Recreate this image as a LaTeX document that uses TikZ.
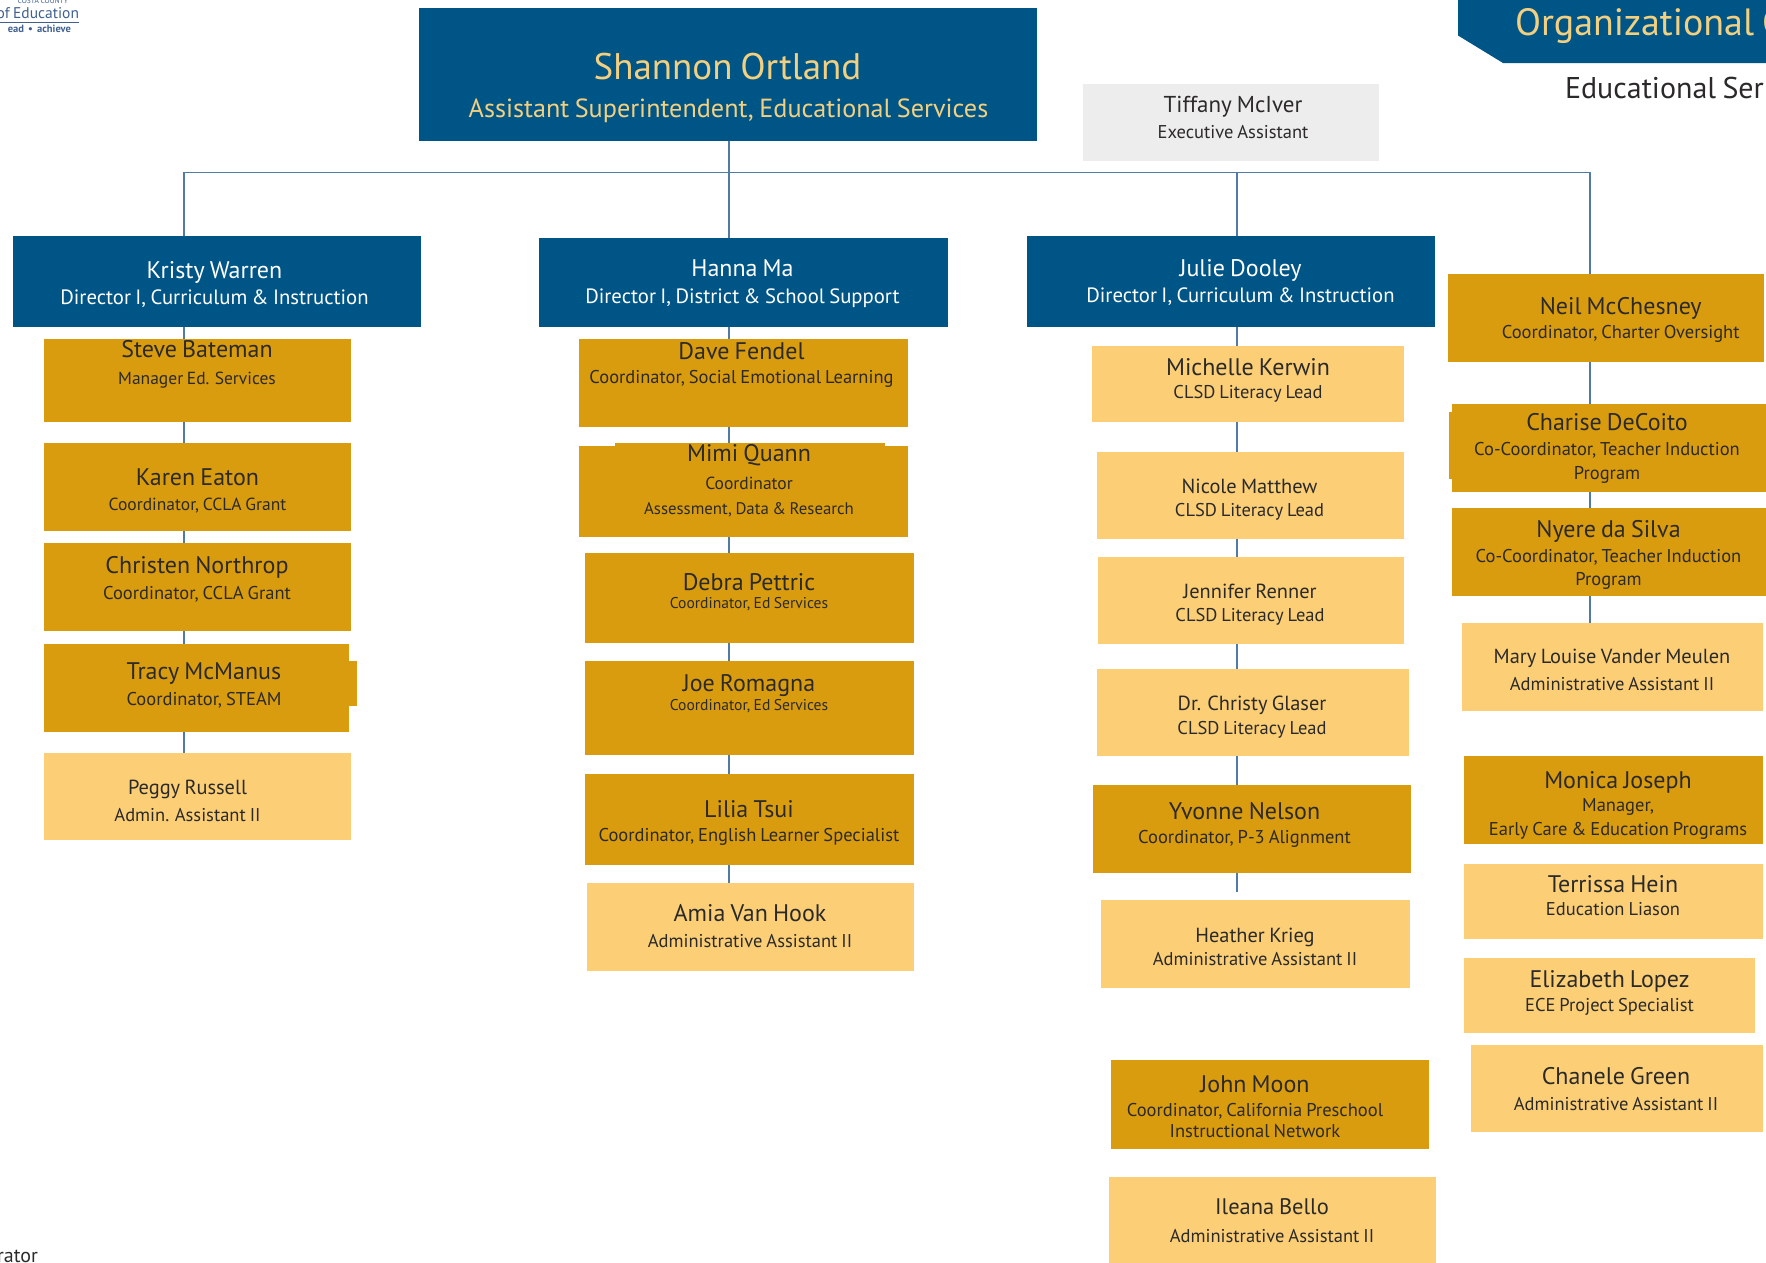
\documentclass[tikz,border=0pt]{standalone}
\usepackage{fontspec}
\setmainfont[WordSpace=0.8]{PT Sans}
\definecolor{navy}{HTML}{005587}
\definecolor{gold}{HTML}{DA9C0F}
\definecolor{sand}{HTML}{FCCF77}
\definecolor{mist}{HTML}{EDEDED}
\definecolor{wire}{HTML}{4F7BA5}
\definecolor{ink}{HTML}{2B2A29}
\definecolor{tan}{HTML}{F3D080}
\definecolor{logoblue}{HTML}{3F5F8F}
\tikzset{
  x=1pt,y=-1pt,
  box/.style={inner sep=0pt,outer sep=0pt,draw=none},
  navybox/.style={box,fill=navy},
  goldbox/.style={box,fill=gold},
  sandbox/.style={box,fill=sand},
  mistbox/.style={box,fill=mist},
  conn/.style={draw=wire,line width=1.1pt},
  txt/.style={inner sep=0pt,outer sep=0pt,anchor=center,text=ink},
  nm/.style={txt,font=\fontsize{24}{26}\selectfont},
  nmsmall/.style={txt,font=\fontsize{20.4}{23}\selectfont},
  sb/.style={txt,font=\fontsize{18.5}{21}\selectfont},
  sbsmall/.style={txt,font=\fontsize{17.5}{20}\selectfont},
  sbtiny/.style={txt,font=\fontsize{15.6}{18}\selectfont},
  wn/.style={txt,text=white,font=\fontsize{24}{26}\selectfont},
  ws/.style={txt,text=white,font=\fontsize{20.7}{23}\selectfont},
}
\newcommand{\card}[6]{%
  \pgfmathsetmacro{\cw}{#5-#3}\pgfmathsetmacro{\ch}{#6-#4}%
  \pgfmathsetmacro{\ccx}{(#3+#5)/2}\pgfmathsetmacro{\ccy}{(#4+#6)/2}%
  \node[#2,minimum width=\cw pt,minimum height=\ch pt] (#1) at (\ccx,\ccy) {};}
\newcommand{\tn}[5]{\node[#2] (#1) at (#3,#4) {#5};}
\begin{document}
\begin{tikzpicture}
\useasboundingbox (0,0) rectangle (1766,1262);
\clip (0,0) rectangle (1766,1262);
% coordinates of the trunks
\coordinate (t1) at (184,172.5);
\coordinate (t2) at (729,172.5);
\coordinate (t3) at (1237,172.5);
\coordinate (t4) at (1590,172.5);
% header
\fill[navy] (1458,-1) -- (1458,35.5) -- (1503,63) -- (1767,63) -- (1767,-1) -- cycle;
\node[txt,anchor=west,text=tan,font=\fontsize{38}{41}\selectfont] (title) at (1515,26) {Organizational C};
\node[txt,anchor=west,font=\fontsize{30}{33}\selectfont] (subtitle) at (1565,88) {Educational Ser};
% logo fragment
\node[txt,anchor=east,text=logoblue,font=\fontsize{7.5}{8}\selectfont] (logo1) at (68,1) {COSTA COUNTY};
\node[txt,anchor=east,text=logoblue,font=\fontsize{15.5}{18}\selectfont] (logo2) at (79,13) {of Education};
\coordinate (logoA) at (0,22.5);
\coordinate (logoB) at (79,22.5);
\draw[logoblue,line width=.8pt] (logoA) -- (logoB);
\node[txt,anchor=east,text=logoblue,font=\fontsize{10.5}{11}\bfseries\selectfont] (logo3) at (71,29) {ead \ \textbullet\ \ achieve};
\node[txt,anchor=east,font=\fontsize{20}{22}\selectfont] (foot) at (38,1256) {rator};
% boxes
\card{top}{navybox}{419}{8}{1037}{141}
\card{tiffany}{mistbox}{1083}{84}{1379}{161}
\card{kristy}{navybox}{13}{236}{421}{327}
\card{steve}{goldbox}{44}{339}{351}{422}
\card{karen}{goldbox}{44}{443}{351}{531}
\card{christen}{goldbox}{44}{543}{351}{631}
\card{tracy}{goldbox}{44}{644}{349}{732}
\card{tracytab}{goldbox}{349}{661}{357}{706}
\card{peggy}{sandbox}{44}{753}{351}{840}
\card{hanna}{navybox}{539}{238}{948}{327}
\card{dave}{goldbox}{579}{339}{908}{427}
\card{mimi}{goldbox}{579}{446}{908}{537}
\card{mimitab}{goldbox}{615}{443}{885}{447}
\card{debra}{goldbox}{585}{553}{914}{643}
\card{joe}{goldbox}{585}{661}{914}{755}
\card{lilia}{goldbox}{585}{774}{914}{865}
\card{amia}{sandbox}{587}{883}{914}{971}
\card{julie}{navybox}{1027}{236}{1435}{327}
\card{michelle}{sandbox}{1092}{346}{1404}{422}
\card{nicole}{sandbox}{1097}{452}{1404}{539}
\card{jennifer}{sandbox}{1098}{557}{1404}{644}
\card{christy}{sandbox}{1097}{669}{1409}{756}
\card{yvonne}{goldbox}{1093}{785}{1411}{873}
\card{heather}{sandbox}{1101}{900}{1410}{988}
\card{john}{goldbox}{1111}{1060}{1429}{1149}
\card{ileana}{sandbox}{1109}{1177}{1436}{1263}
\card{neil}{goldbox}{1448}{274}{1764}{362}
\card{charise}{goldbox}{1452}{404}{1767}{492}
\card{charisetab}{goldbox}{1449}{412}{1453}{479}
\card{nyere}{goldbox}{1452}{508}{1767}{596}
\card{mary}{sandbox}{1462}{623}{1763}{711}
\card{monica}{goldbox}{1464}{756}{1763}{844}
\card{terrissa}{sandbox}{1464}{864}{1763}{939}
\card{elizabeth}{sandbox}{1464}{958}{1755}{1033}
\card{chanele}{sandbox}{1471}{1045}{1763}{1132}
% connectors
\coordinate (topdrop) at (top.south -| t2);
\draw[conn,line cap=rect] (t1) -- (t4);
\draw[conn] (topdrop) -- (t2);
\draw[conn] (t1) -- (kristy.north -| t1);
\draw[conn] (t2) -- (hanna.north -| t2);
\draw[conn] (t3) -- (julie.north -| t3);
\draw[conn] (t4) -- (neil.north -| t4);
\foreach \a/\b in {kristy/steve,steve/karen,karen/christen,christen/tracy,tracy/peggy}
  \draw[conn] (\a.south -| t1) -- (\b.north -| t1);
\foreach \a/\b in {hanna/dave,dave/mimitab,mimi/debra,debra/joe,joe/lilia,lilia/amia}
  \draw[conn] (\a.south -| t2) -- (\b.north -| t2);
\foreach \a/\b in {julie/michelle,michelle/nicole,nicole/jennifer,jennifer/christy,christy/yvonne}
  \draw[conn] (\a.south -| t3) -- (\b.north -| t3);
\coordinate (yvtail) at (1237,892);
\draw[conn] (yvonne.south -| t3) -- (yvtail);
\foreach \a/\b in {neil/charise,charise/nyere,nyere/mary}
  \draw[conn] (\a.south -| t4) -- (\b.north -| t4);
% texts
\tn{topn}{txt,text=tan,font=\fontsize{37}{40}\selectfont}{727.5}{67}{Shannon Ortland}
\tn{tops}{txt,text=tan,font=\fontsize{26.2}{29}\selectfont}{728.5}{111}{Assistant Superintendent, Educational Services}
\tn{tifn}{txt,font=\fontsize{23}{26}\selectfont}{1233}{107}{Tiffany McIver}
\tn{tifs}{sb}{1233}{132}{Executive Assistant}
\tn{krn}{wn}{214.5}{272}{Kristy Warren}
\tn{krs}{ws}{214.5}{299}{Director I, Curriculum \& Instruction}
\tn{stn}{nm}{197}{349}{Steve Bateman}
\tn{sts}{sbsmall}{197}{380}{Manager Ed. Services}
\tn{kan}{nm}{197.5}{477}{Karen Eaton}
\tn{kas}{sbsmall}{197.5}{506}{Coordinator, CCLA Grant}
\tn{chn}{nm}{197}{567}{Christen Northrop}
\tn{chs}{sb}{197}{594}{Coordinator, CCLA Grant}
\tn{trn}{nm}{204}{674}{Tracy McManus}
\tn{trs}{sb}{204}{700}{Coordinator, STEAM}
\tn{pen}{nmsmall}{187.5}{789}{Peggy Russell}
\tn{pes}{sb}{187.5}{815}{Admin. Assistant II}
\tn{han}{wn}{742.5}{268.5}{Hanna Ma}
\tn{has}{ws}{742.5}{298}{Director I, District \& School Support}
\tn{dan}{nm}{741.5}{351}{Dave Fendel}
\tn{das}{sb}{741.5}{379}{Coordinator, Social Emotional Learning}
\tn{min}{nm}{749}{455}{Mimi Quann}
\tn{mis}{sbsmall}{749}{483}{Coordinator}
\tn{mit}{txt,font=\fontsize{16.8}{19}\selectfont}{749}{510}{Assessment, Data \& Research}
\tn{den}{nm}{749}{582}{Debra Pettric}
\tn{des}{sbtiny}{749}{604}{Coordinator, Ed Services}
\tn{jon}{nm}{749}{685.5}{Joe Romagna}
\tn{jos}{sbtiny}{749}{706}{Coordinator, Ed Services}
\tn{lin}{nm}{749}{809}{Lilia Tsui}
\tn{lis}{sb}{749}{836.5}{Coordinator, English Learner Specialist}
\tn{amn}{nm}{750}{913}{Amia Van Hook}
\tn{ams}{sb}{750}{941}{Administrative Assistant II}
\tn{jun}{wn}{1240.5}{270}{Julie Dooley}
\tn{jus}{ws}{1240.5}{297}{Director I, Curriculum \& Instruction}
\tn{men}{nm}{1248}{367}{Michelle Kerwin}
\tn{mes}{sb}{1248}{394}{CLSD Literacy Lead}
\tn{nin}{nmsmall}{1249.5}{486}{Nicole Matthew}
\tn{nis}{sb}{1249.5}{512}{CLSD Literacy Lead}
\tn{jen}{nmsmall}{1250}{591}{Jennifer Renner}
\tn{jes}{sb}{1250}{617}{CLSD Literacy Lead}
\tn{crn}{nmsmall}{1252}{705}{Dr. Christy Glaser}
\tn{crs}{sb}{1252}{729.5}{CLSD Literacy Lead}
\tn{yvn}{nm}{1244.5}{811}{Yvonne Nelson}
\tn{yvs}{sb}{1244.5}{839}{Coordinator, P-3 Alignment}
\tn{hen}{nmsmall}{1255}{937}{Heather Krieg}
\tn{hes}{sb}{1255}{959.5}{Administrative Assistant II}
\tn{jhn}{nm}{1255}{1084.5}{John Moon}
\tn{jhs}{sb}{1255}{1111}{Coordinator, California Preschool}
\tn{jht}{sb}{1255}{1131}{Instructional Network}
\tn{iln}{txt,font=\fontsize{22.5}{25}\selectfont}{1272}{1207}{Ileana Bello}
\tn{ils}{sb}{1272}{1236}{Administrative Assistant II}
\tn{nen}{nm}{1620.7}{308}{Neil McChesney}
\tn{nes}{sb}{1620.7}{334}{Coordinator, Charter Oversight}
\tn{can}{nm}{1607}{422}{Charise DeCoito}
\tn{cas}{sb}{1607}{450}{Co-Coordinator, Teacher Induction}
\tn{cat}{sb}{1607}{475}{Program}
\tn{nyn}{nm}{1608.5}{531}{Nyere da Silva}
\tn{nys}{sb}{1608.5}{557}{Co-Coordinator, Teacher Induction}
\tn{nyt}{sb}{1608.5}{581}{Program}
\tn{man}{nmsmall}{1612}{658.5}{Mary Louise Vander Meulen}
\tn{mas}{sb}{1612}{684}{Administrative Assistant II}
\tn{mon}{nm}{1618}{782}{Monica Joseph}
\tn{mos}{sb}{1618}{807}{Manager,}
\tn{mot}{sb}{1618}{831}{Early Care \& Education Programs}
\tn{ten}{nm}{1613}{884}{Terrissa Hein}
\tn{tes}{sb}{1613}{909}{Education Liason}
\tn{eln}{nm}{1609.5}{981}{Elizabeth Lopez}
\tn{els}{sb}{1609.5}{1007}{ECE Project Specialist}
\tn{can2}{nm}{1616}{1076}{Chanele Green}
\tn{cas2}{sb}{1616}{1104}{Administrative Assistant II}
\end{tikzpicture}
\end{document}
